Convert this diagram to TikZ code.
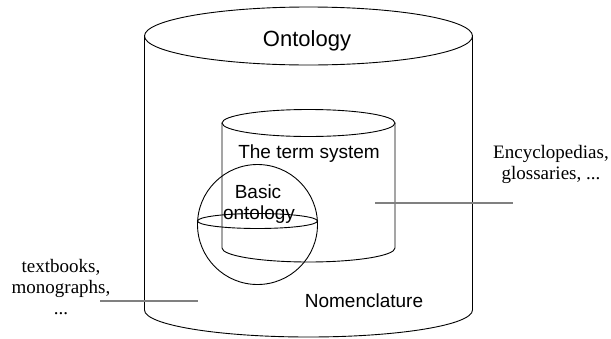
\documentclass[tikz,border=0pt]{standalone}
\usepackage{fontspec}
\setmainfont{Liberation Serif}
\newfontfamily\arialfont{Liberation Sans}
\begin{document}
\begin{tikzpicture}[x=1pt,y=-1pt,
  outline/.style={draw=black,line width=0.9pt},
  pointer/.style={draw=black!50,line width=1.5pt},
  sanslabel/.style={font=\arialfont\fontsize{19}{21}\selectfont,anchor=base,inner sep=0pt},
  seriflabel/.style={font=\fontsize{19}{21}\selectfont,align=center,anchor=base,inner sep=0pt}]
\useasboundingbox (0,0) rectangle (611,338);
% outer cylinder
\draw[outline] (308.5,36) ellipse [x radius=164, y radius=29];
\draw[outline] (144.5,36) -- (144.5,310)
  arc[start angle=180,end angle=0,x radius=164,y radius=27] -- (472.5,36);
% inner cylinder
\draw[outline] (308.5,123) ellipse [x radius=86.5, y radius=13.5];
\draw[outline] (222,123) -- (222,248)
  arc[start angle=180,end angle=0,x radius=86.5,y radius=14] -- (395,123);
% sphere
\draw[outline] (257.5,224.5) circle [radius=60];
\draw[outline] (257.5,221) ellipse [x radius=60, y radius=7.5];
% labels
\node[sanslabel,font=\arialfont\fontsize{22}{24}\selectfont] (onto) at (307,46) {Ontology};
\node[sanslabel] (term) at (309,158) {The term system};
\node[sanslabel] (basic) at (258,198) {Basic};
\node[sanslabel] (bonto) at (259,219) {ontology};
\node[sanslabel] (nomen) at (364,307) {Nomenclature};
\node[seriflabel] (ency) at (551,179) {Encyclopedias,\\glossaries, ...};
\node[seriflabel] (text) at (61,314) {textbooks,\\monographs,\\...};
% pointer lines
\coordinate (r1) at (375,203);
\coordinate (r2) at (513,203);
\coordinate (l1) at (100,301);
\coordinate (l2) at (198,301);
\draw[pointer] (r1) -- (r2);
\draw[pointer] (l1) -- (l2);
\end{tikzpicture}
\end{document}
